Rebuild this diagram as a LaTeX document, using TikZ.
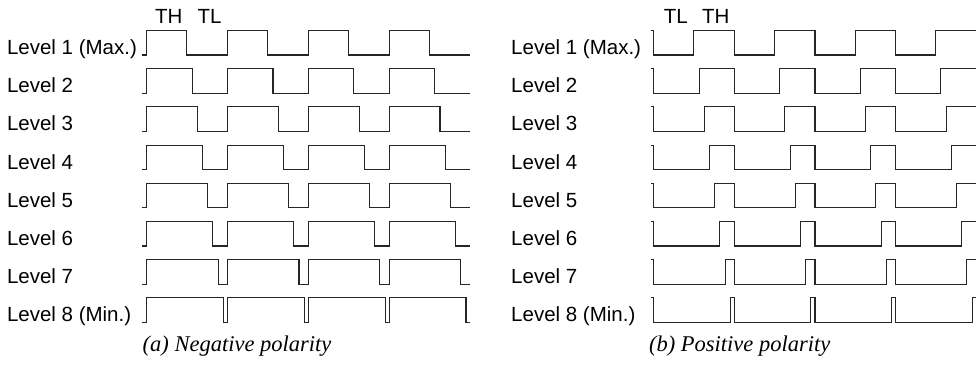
\documentclass[tikz,border=0pt]{standalone}
\usepackage{fontspec}
\setmainfont{Liberation Sans}
\newfontfamily\capfont{Liberation Serif}
\begin{document}
\begin{tikzpicture}[x=1pt,y=-1pt,
  wave/.style={line width=1.1pt, draw=black!85, line join=miter},
  lvl/.style={anchor=base west, inner sep=0pt, font=\fontsize{20.5}{24}\selectfont},
  tlab/.style={anchor=base, inner sep=0pt, font=\fontsize{20.5}{24}\selectfont},
  caption/.style={anchor=base, inner sep=0pt, font=\capfont\itshape\fontsize{22.5}{26}\selectfont}]
\useasboundingbox (0,0) rectangle (978,367);
\foreach \k/\t in {1/Level 1 (Max.),2/Level 2,3/Level 3,4/Level 4,5/Level 5,6/Level 6,7/Level 7,8/Level 8 (Min.)}{
  \pgfmathsetmacro{\hi}{30.5+38.2*(\k-1)}
  \pgfmathsetmacro{\lo}{\hi+24.5}
  \pgfmathsetmacro{\d}{40.5-5.2*(\k-1)}
  \node[lvl] (la\k) at (6.8,\lo-0.5) {\t};
  \node[lvl] (lb\k) at (511,\lo-0.5) {\t};
  \draw[wave] (141.5,\lo) -- (146.5,\lo)
    \foreach \n in {0,...,3}{
      -- ({146.5+80.9*\n},\hi) -- ({146.5+80.9*(\n+1)-\d},\hi)
      -- ({146.5+80.9*(\n+1)-\d},\lo) -- ({146.5+80.9*(\n+1)},\lo)};
  \draw[wave] (651,\hi) -- (653.8,\hi)
    \foreach \n in {0,...,3}{
      -- ({653.8+80.6*\n},\lo) -- ({653.8+80.6*(\n+1)-\d},\lo)
      -- ({653.8+80.6*(\n+1)-\d},\hi) -- ({653.8+80.6*(\n+1)},\hi)};
}
\node[tlab] (thA) at (168.7,23.3) {TH};
\node[tlab] (tlA) at (209.5,23.3) {TL};
\node[tlab] (tlB) at (675.8,23.3) {TL};
\node[tlab] (thB) at (715.8,23.3) {TH};
\node[caption] (capA) at (237,351.7) {(a) Negative polarity};
\node[caption] (capB) at (739.7,351.7) {(b) Positive polarity};
\end{tikzpicture}
\end{document}
